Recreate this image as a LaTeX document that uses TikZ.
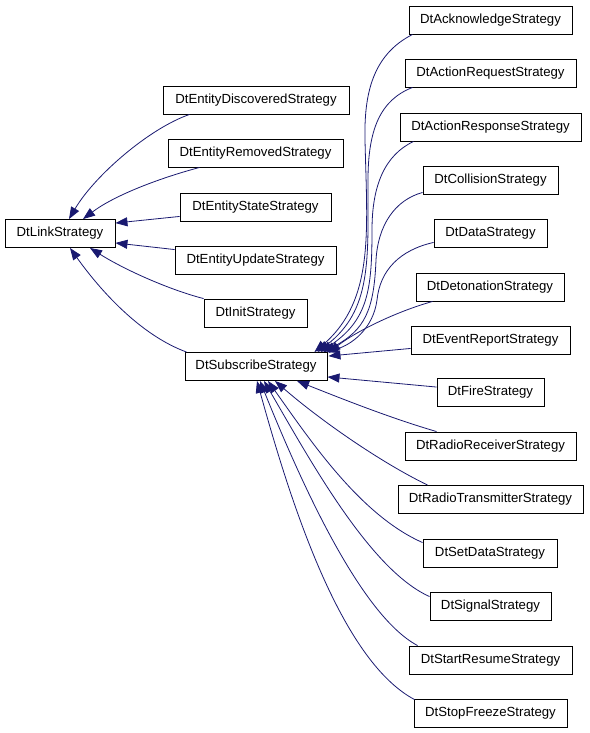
\documentclass[tikz,border=0pt]{standalone}
\usepackage{fontspec}
\setmainfont{Liberation Sans}
\usetikzlibrary{arrows.meta,calc}
\definecolor{edgeblue}{HTML}{191970}
\tikzset{
  cls/.style={draw=black, line width=0.9pt, fill=white, minimum height=28pt, inner sep=0pt,
    font=\fontsize{13.2}{15}\selectfont},
  edge/.style={draw=edgeblue, line width=0.8pt, -{Triangle[length=12pt,width=9pt,fill=edgeblue]}}
}
\begin{document}
\begin{tikzpicture}[x=1pt,y=-1pt]
\useasboundingbox (0,0) rectangle (589,733);
% left part
\node[cls, minimum width=110pt] (link) at (60,233.5) {DtLinkStrategy};
\node[cls, minimum width=186pt] (disc) at (256,100) {DtEntityDiscoveredStrategy};
\node[cls, minimum width=175pt] (rem) at (255.5,153) {DtEntityRemovedStrategy};
\node[cls, minimum width=151pt] (state) at (255.5,207) {DtEntityStateStrategy};
\node[cls, minimum width=161pt] (update) at (255.5,260) {DtEntityUpdateStrategy};
\node[cls, minimum width=103pt] (init) at (255.5,313) {DtInitStrategy};
\node[cls, minimum width=142pt] (sub) at (256,366.5) {DtSubscribeStrategy};
% right part
\node[cls, minimum width=163pt] (ack) at (490.5,20) {DtAcknowledgeStrategy};
\node[cls, minimum width=171pt] (actreq) at (490.5,73) {DtActionRequestStrategy};
\node[cls, minimum width=181pt] (actresp) at (490.5,127) {DtActionResponseStrategy};
\node[cls, minimum width=135pt] (coll) at (490.5,180) {DtCollisionStrategy};
\node[cls, minimum width=113pt] (data) at (490.5,233) {DtDataStrategy};
\node[cls, minimum width=148pt] (det) at (490,287) {DtDetonationStrategy};
\node[cls, minimum width=159pt] (ev) at (490.5,340) {DtEventReportStrategy};
\node[cls, minimum width=107pt] (fire) at (490.5,392.5) {DtFireStrategy};
\node[cls, minimum width=171pt] (rr) at (490.5,446) {DtRadioReceiverStrategy};
\node[cls, minimum width=185pt] (rt) at (490.5,499.5) {DtRadioTransmitterStrategy};
\node[cls, minimum width=134pt] (sd) at (490,553) {DtSetDataStrategy};
\node[cls, minimum width=121pt] (sig) at (490.5,606) {DtSignalStrategy};
\node[cls, minimum width=163pt] (sr) at (490.5,660) {DtStartResumeStrategy};
\node[cls, minimum width=153pt] (sf) at (490.5,713) {DtStopFreezeStrategy};

% edges to DtLinkStrategy
\draw[edge] ($(disc.south west)+(27,0)$) .. controls (150,128) and (95,175) .. ($(link.north)+(9,0)$);
\draw[edge] ($(rem.south west)+(32,0)$) .. controls (160,178) and (115,195) .. ($(link.north)+(23,0)$);
\draw[edge] ($(state.south west)+(0,-5)$) -- ($(link.north east)+(0,4)$);
\draw[edge] ($(update.north west)+(0,4)$) -- ($(link.south east)+(0,-5)$);
\draw[edge] (init.north west) .. controls (170,290) and (125,270) .. ($(link.south)+(30,0)$);
\draw[edge] ($(sub.north west)+(2,0)$) .. controls (140,335) and (100,290) .. ($(link.south)+(10,0)$);

% edges to DtSubscribeStrategy
\draw[edge] ($(ack.south west)+(4,0)$) .. controls (372,55) and (364,95) .. (365,140)
   .. controls (367,230) and (375,300) .. ($(sub.north east)+(-13,0)$);
\draw[edge] ($(actreq.south west)+(8,0)$) .. controls (380,100) and (368,130) .. (368,180)
   .. controls (368,260) and (372,310) .. ($(sub.north east)+(-10,0)$);
\draw[edge] ($(actresp.south west)+(14,0)$) .. controls (385,155) and (372,185) .. (372,230)
   .. controls (372,290) and (368,320) .. ($(sub.north east)+(-7,0)$);
\draw[edge] ($(coll.south west)+(0,-2)$) .. controls (395,200) and (378,225) .. (376,260)
   .. controls (374,310) and (365,330) .. ($(sub.north east)+(-4,0)$);
\draw[edge] ($(data.south west)+(0,-5)$) .. controls (400,250) and (380,270) .. (377,300)
   .. controls (373,330) and (350,345) .. ($(sub.north east)+(-1,0)$);
\draw[edge] ($(det.south west)+(17,0)$) .. controls (395,312) and (355,332) .. ($(sub.north east)+(1,1)$);
\draw[edge] ($(ev.south west)+(0,-6)$) -- ($(sub.north east)+(1,4)$);
\draw[edge] ($(fire.north west)+(0,9)$) -- ($(sub.south east)+(0,-4)$);
\draw[edge] ($(rr.north west)+(32,0)$) .. controls (390,418) and (340,398) .. ($(sub.south)+(41,0)$);
\draw[edge] ($(rt.north west)+(30,0)$) .. controls (380,462) and (320,420) .. ($(sub.south)+(19,0)$);
\draw[edge] ($(sd.north west)+(0,4)$) .. controls (360,515) and (310,440) .. ($(sub.south)+(12,0)$);
\draw[edge] ($(sig.north west)+(0,5)$) .. controls (370,570) and (310,460) .. ($(sub.south)+(8,0)$);
\draw[edge] ($(sr.north west)+(9,0)$) .. controls (360,615) and (300,480) .. ($(sub.south)+(4,0)$);
\draw[edge] ($(sf.north west)+(1,1)$) .. controls (340,660) and (290,500) .. ($(sub.south)+(1,0)$);
\end{tikzpicture}
\end{document}
